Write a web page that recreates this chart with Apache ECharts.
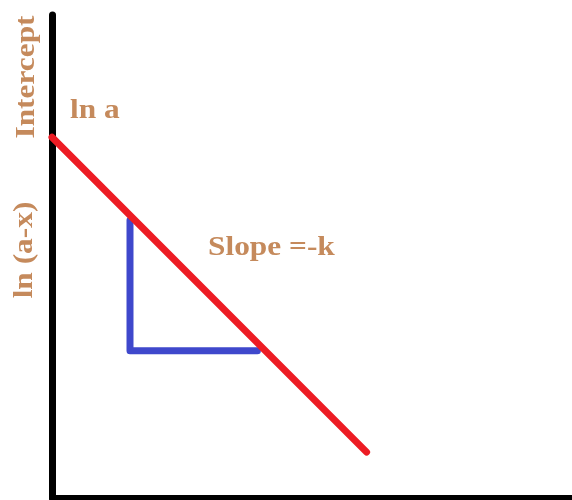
<!DOCTYPE html>
<html>
<head>
<meta charset="utf-8">
<script src="https://cdn.jsdelivr.net/npm/echarts@6/dist/echarts.min.js"></script>
<style>
  html, body { margin: 0; padding: 0; background: #fff; }
  #chart { width: 572px; height: 500px; }
</style>
</head>
<body>
<div id="chart"></div>
<script>
// first-order kinetics sketch: ln(a-x) against time
var lineX = [0, 6.05];
var lineY = [7.47, 0.95];
var triX = [1.5, 1.5, 3.95];
var triY = [5.75, 3.05, 3.05];
var labels = ['Intercept', 'ln a', 'ln (a-x)', 'Slope =-k'];

var textColor = '#c58a5c';
var textFont = 'bold 28px "Liberation Serif"';

function pairs(xs, ys) {
	var out = [];
	for (var i = 0; i < xs.length; i++) {
		out.push([xs[i], ys[i]]);
	}
	return out;
}

// the lettering in the picture is a bit wider than the plain font
function label(text, x, y, rot, align) {
	return {
		type: 'text',
		x: x,
		y: y,
		rotation: rot,
		scaleX: 1.12,
		style: {
			text: text,
			fill: textColor,
			font: textFont,
			align: align,
			verticalAlign: 'middle'
		}
	};
}

var chart = echarts.init(document.getElementById('chart'));
var option = {
	animation: false,
	backgroundColor: '#ffffff',
	grid: {
		left: 52,
		right: 0,
		top: 15,
		bottom: 2
	},
	xAxis: {
		type: 'value',
		min: 0,
		max: 10,
		axisLine: { show: true, onZero: false, lineStyle: { color: '#000', width: 6 } },
		axisTick: { show: false },
		axisLabel: { show: false },
		splitLine: { show: false }
	},
	yAxis: {
		type: 'value',
		min: 0,
		max: 10,
		axisLine: { show: true, onZero: false, lineStyle: { color: '#000', width: 7, cap: 'round' } },
		axisTick: { show: false },
		axisLabel: { show: false },
		splitLine: { show: false }
	},
	series: [{
		type: 'line',
		data: pairs(triX, triY),
		showSymbol: false,
		lineStyle: { color: '#3f48cc', width: 7, cap: 'round', join: 'round' }
	}, {
		type: 'line',
		data: pairs(lineX, lineY),
		showSymbol: false,
		lineStyle: { color: '#ed1c24', width: 7, cap: 'round' }
	}],
	graphic: [
		label(labels[0], 27, 77, Math.PI / 2, 'center'),
		label(labels[1], 70, 111, 0, 'left'),
		label(labels[2], 25, 250, Math.PI / 2, 'center'),
		label(labels[3], 208, 248, 0, 'left')
	]
};
chart.setOption(option);
</script>
</body>
</html>
